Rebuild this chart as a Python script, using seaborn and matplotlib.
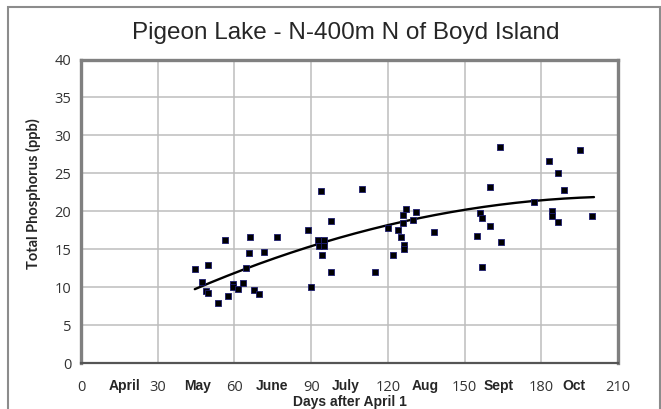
# Pigeon Lake total phosphorus vs days after April 1
import numpy as np
import pandas as pd
import matplotlib.pyplot as plt
from matplotlib.patches import Rectangle
import seaborn as sns

# Data
days = [44.5, 49.5, 47.4, 48.8, 49.5, 53.4, 56.2, 57.6, 59.4, 59.6,
        61.5, 63.5, 64.5, 65.6, 66.1, 67.5, 69.6, 71.4, 76.5, 88.9,
        89.9, 93.9, 92.8, 95.0, 92.9, 95.0, 94.3, 97.8, 97.8, 110.0,
        115.0, 119.9, 122.0, 124.0, 125.0, 126.0, 126.0, 127.0, 126.2, 126.4,
        130.0, 131.0, 137.9, 164.0, 159.9, 156.0, 156.9, 159.9, 155.0, 164.4,
        156.9, 177.0, 183.0, 195.1, 186.7, 189.0, 184.0, 184.0, 186.4, 200.0]
tp = [12.4, 12.9, 10.7, 9.5, 9.2, 8.0, 16.25, 8.9, 10.5, 10.1,
      9.8, 10.55, 12.6, 14.5, 16.6, 9.6, 9.1, 14.6, 16.6, 17.6,
      10.1, 22.7, 16.3, 16.3, 15.5, 15.5, 14.2, 18.8, 12.0, 22.9,
      12.0, 17.8, 14.2, 17.6, 16.6, 18.5, 19.5, 20.3, 15.55, 15.0,
      18.9, 19.9, 17.3, 28.5, 23.2, 19.85, 19.1, 18.05, 16.8, 16.0,
      12.7, 21.2, 26.6, 28.1, 25.1, 22.8, 20.1, 19.4, 18.6, 19.4]

# points read along the trendline (Excel poly trend)
trend_days = [44.5, 77.8, 90, 120, 140.4, 177, 200.6]
trend_tp = [9.7, 14.0, 15.7, 18.05, 19.7, 21.2, 22.0]

x_ticks = [0, 30, 60, 90, 120, 150, 180, 210]
months = ["April", "May", "June", "July", "Aug", "Sept", "Oct"]
month_pos = [17, 45.6, 74.6, 103.5, 134.8, 163.5, 192.8]

df = pd.DataFrame({"day": days, "tp": tp})

# smooth 2nd order curve through the trendline readings
coef = np.polyfit(trend_days, trend_tp, 2)
xfit = np.linspace(trend_days[0], trend_days[-1], 200)
trend = pd.DataFrame({"day": xfit, "tp": np.polyval(coef, xfit)})

sns.set_style("white")
plt.rcParams["font.family"] = ["Liberation Sans", "DejaVu Sans"]

fig = plt.figure(figsize=(6.61, 4.09), dpi=100)
ax = fig.add_axes([81 / 661, 1 - 363.3 / 409, 537 / 661, 303.8 / 409])

sns.lineplot(data=trend, x="day", y="tp", color="black", linewidth=1.7, ax=ax, zorder=3)
sns.scatterplot(data=df, x="day", y="tp", marker="s", s=24, color="black",
                edgecolor="#1c1c70", linewidth=0.6, ax=ax, zorder=4)

ax.set_xlim(0, 210)
ax.set_ylim(0, 40)
ax.set_xticks(x_ticks)
ax.set_yticks(range(0, 41, 5))
ax.grid(True, color="#bdbdbd", linewidth=1.1)
ax.set_axisbelow(True)

for side in ["top", "right", "left"]:
    ax.spines[side].set_color("#808080")
    ax.spines[side].set_linewidth(2.4)
ax.spines["bottom"].set_color("#555555")
ax.spines["bottom"].set_linewidth(1.6)

ax.tick_params(axis="x", direction="inout", length=6, width=1, color="#555555",
               pad=9, labelsize=10.5, labelcolor="#333333")
ax.tick_params(axis="y", direction="out", length=3, width=1, color="#808080",
               pad=4, labelsize=10.5, labelcolor="#333333")
for lab in ax.get_xticklabels() + ax.get_yticklabels():
    lab.set_family(["Open Sans", "DejaVu Sans"])

# month names between the day ticks
for name, pos in zip(months, month_pos):
    ax.text(pos, -0.074, name, transform=ax.get_xaxis_transform(),
            ha="center", va="center", fontsize=10, fontweight="bold")

ax.set_xlabel("Days after April 1", fontsize=10, fontweight="bold")
ax.xaxis.set_label_coords(0.5, -0.126)
ax.xaxis.label.set_va("center")
ax.set_ylabel("Total Phosphorus (ppb)", fontsize=10.5, fontweight="bold",
              family=["Lato", "DejaVu Sans"])
ax.yaxis.set_label_coords(-0.089, 0.56)
ax.yaxis.label.set_va("center")

fig.text(346 / 661, 1 - 33 / 409, "Pigeon Lake - N-400m N of Boyd Island",
         ha="center", va="center", fontsize=17.5)

# outer chart frame
fig.patches.append(Rectangle((7.5 / 661, -0.05), (660 - 7.5) / 661, 1.05 - 7.5 / 409,
                             transform=fig.transFigure, fill=False,
                             edgecolor="#8c8c8c", linewidth=1.5))

fig.savefig("out.png", dpi=100)
